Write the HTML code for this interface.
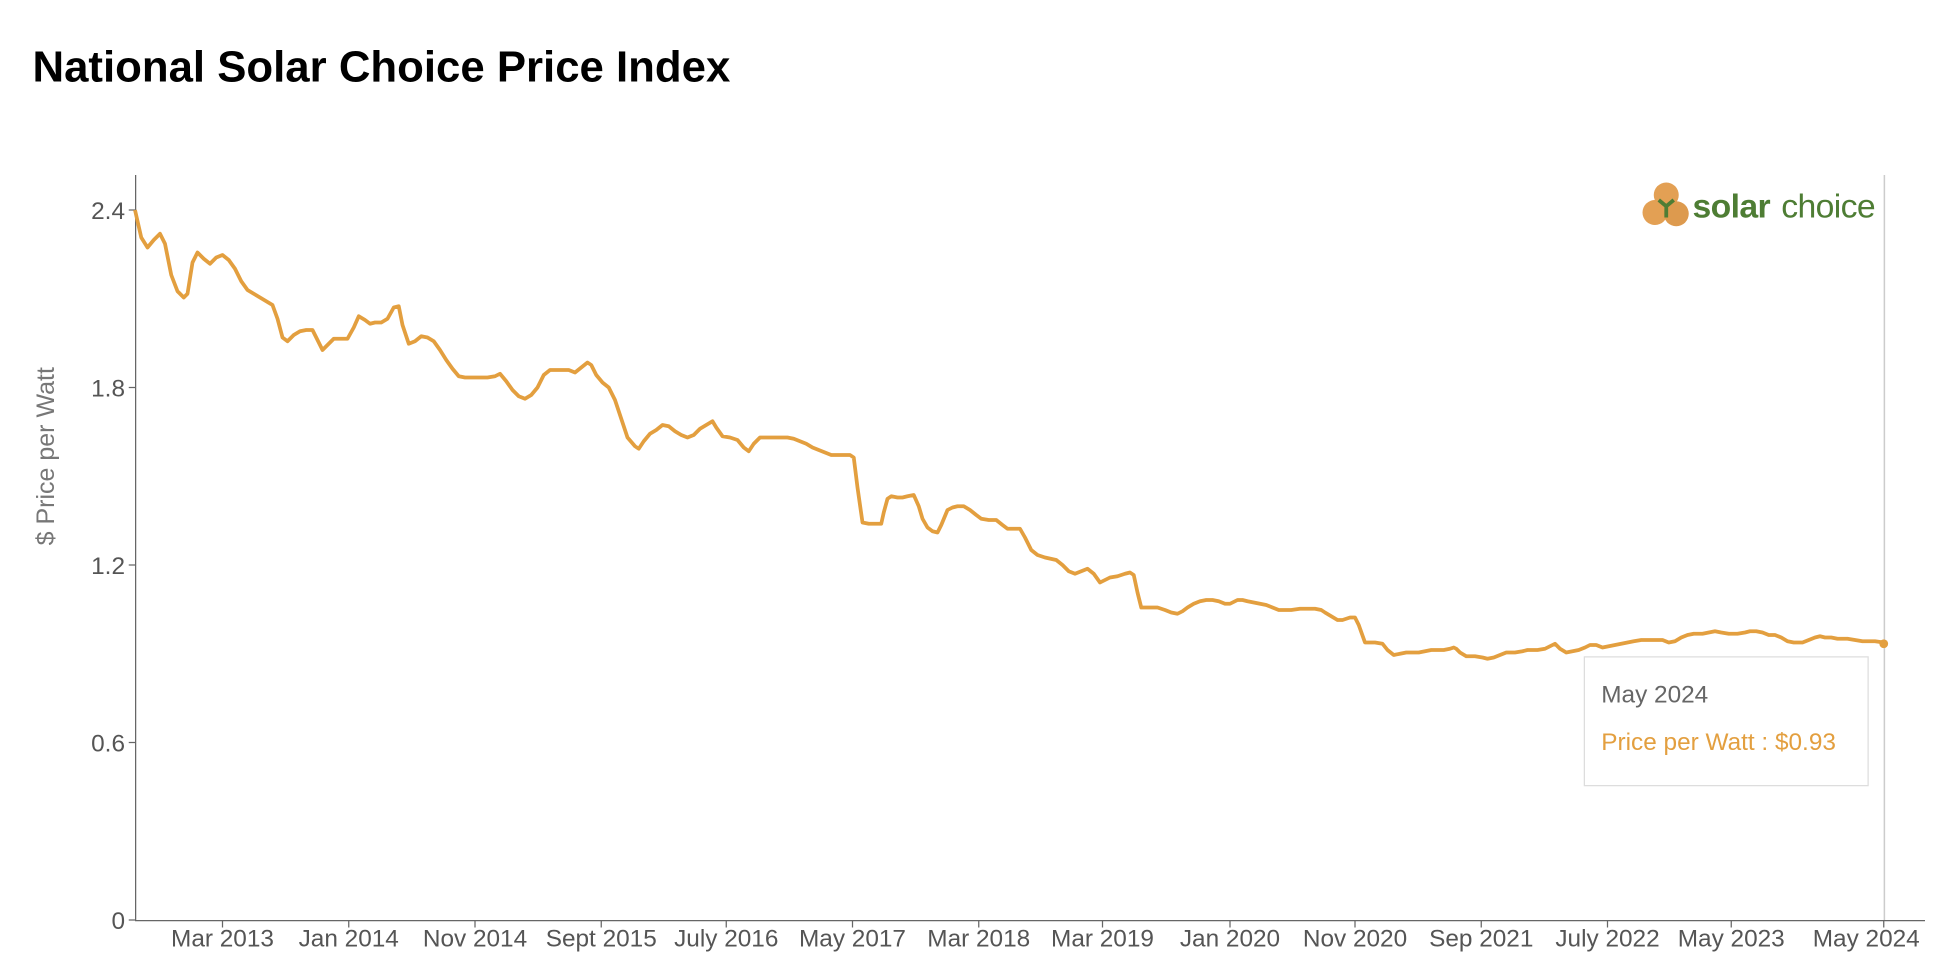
<!DOCTYPE html>
<html><head><meta charset="utf-8"><style>
html,body{margin:0;padding:0;background:#fff;}
svg{display:block;font-family:"Liberation Sans",Arial,sans-serif;}
</style></head><body>
<svg width="1938" height="958" viewBox="0 0 1550.4 766.4" xmlns="http://www.w3.org/2000/svg">
<text x="26" y="65" font-size="35" font-weight="bold" fill="#000">National Solar Choice Price Index</text>
<!-- axes -->
<line x1="108.5" y1="140" x2="108.5" y2="736.5" stroke="#666" stroke-width="1"/>
<line x1="108" y1="736.5" x2="1540" y2="736.5" stroke="#666" stroke-width="1"/>
<line x1="1507.5" y1="140" x2="1507.5" y2="736" stroke="#ccc" stroke-width="1.2"/>
<g font-size="19.5" fill="#555" text-anchor="end">
<line x1="103" y1="168" x2="108" y2="168" stroke="#666"/><text x="100" y="175">2.4</text>
<line x1="103" y1="310" x2="108" y2="310" stroke="#666"/><text x="100" y="317">1.8</text>
<line x1="103" y1="452" x2="108" y2="452" stroke="#666"/><text x="100" y="459">1.2</text>
<line x1="103" y1="594" x2="108" y2="594" stroke="#666"/><text x="100" y="601">0.6</text>
<line x1="103" y1="736" x2="108" y2="736" stroke="#666"/><text x="100" y="743">0</text>
</g>
<text transform="translate(43,365) rotate(-90)" font-size="20" fill="#777" text-anchor="middle">$ Price per Watt</text>
<g stroke="#666">
<line x1="178" y1="736" x2="178" y2="742"/><line x1="279" y1="736" x2="279" y2="742"/><line x1="380" y1="736" x2="380" y2="742"/><line x1="481" y1="736" x2="481" y2="742"/><line x1="581" y1="736" x2="581" y2="742"/><line x1="682" y1="736" x2="682" y2="742"/><line x1="783" y1="736" x2="783" y2="742"/><line x1="882" y1="736" x2="882" y2="742"/><line x1="984" y1="736" x2="984" y2="742"/><line x1="1084" y1="736" x2="1084" y2="742"/><line x1="1185" y1="736" x2="1185" y2="742"/><line x1="1286" y1="736" x2="1286" y2="742"/><line x1="1385" y1="736" x2="1385" y2="742"/><line x1="1507" y1="736" x2="1507" y2="742"/>
</g>
<g font-size="19.5" fill="#555" text-anchor="middle">
<text x="178" y="757">Mar 2013</text><text x="279" y="757">Jan 2014</text><text x="380" y="757">Nov 2014</text><text x="481" y="757">Sept 2015</text><text x="581" y="757">July 2016</text><text x="682" y="757">May 2017</text><text x="783" y="757">Mar 2018</text><text x="882" y="757">Mar 2019</text><text x="984" y="757">Jan 2020</text><text x="1084" y="757">Nov 2020</text><text x="1185" y="757">Sep 2021</text><text x="1286" y="757">July 2022</text><text x="1385" y="757">May 2023</text><text x="1493" y="757">May 2024</text>
</g>
<!-- logo -->
<circle cx="1333" cy="156" r="10" fill="#e3a054"/><circle cx="1324" cy="170" r="10" fill="#e3a054"/><circle cx="1341" cy="171" r="10" fill="#dd9a4e"/>
<path d="M1333 165 l-6 -5 M1333 165 l6 -5 M1333 165 v9" stroke="#4e7d34" stroke-width="3" fill="none"/>
<text x="1354" y="174" font-size="27" font-weight="bold" fill="#4e7d34" letter-spacing="-0.5">solar</text>
<text x="1425" y="174" font-size="27" fill="#4e7d34" letter-spacing="-0.5">choice</text>
<!-- line -->
<polyline fill="none" stroke="#e39f3f" stroke-width="3" stroke-linejoin="round" points="108,168 113,190 118,198 123,192 128,187 132,195 137,220 142,233 147,238 150,235 154,210 158,202 163,207 168,211 173,206 178,204 183,208 188,215 193,225 198,232 203,235 208,238 213,241 218,244 222,255 226,270 230,273 235,268 240,265 245,264 250,264 254,272 258,280 262,276 267,271 272,271 278,271 283,262 287,253 292,256 296,259 300,258 305,258 310,255 315,246 319,245 322,260 327,275 332,273 337,269 342,270 347,273 352,280 357,288 362,295 367,301 372,302 380,302 390,302 396,301 400,299 405,305 410,312 415,317 420,319 425,316 430,310 435,300 440,296 448,296 455,296 460,298 465,294 470,290 473,292 477,300 482,306 487,310 492,320 497,335 502,350 508,357 511,359 515,353 520,347 525,344 530,340 535,341 540,345 545,348 550,350 555,348 560,343 565,340 570,337 573,342 578,349 584,350 590,352 595,358 599,361 603,355 608,350 620,350 630,350 635,351 640,353 645,355 650,358 655,360 660,362 665,364 673,364 680,364 683,366 686,390 690,418 695,419 705,419 707,410 710,399 713,397 718,398 722,398 726,397 731,396 735,405 738,415 742,422 746,425 750,426 753,420 758,408 762,406 766,405 771,405 776,408 781,412 785,415 791,416 797,416 802,420 806,423 810,423 816,423 820,430 825,440 830,444 836,446 845,448 850,452 855,457 860,459 865,457 870,455 875,459 880,466 884,464 888,462 894,461 900,459 904,458 907,460 910,474 913,486 920,486 926,486 932,488 937,490 942,491 946,489 950,486 955,483 960,481 965,480 970,480 975,481 980,483 984,483 990,480 994,480 998,481 1003,482 1008,483 1013,484 1018,486 1023,488 1028,488 1033,488 1040,487 1046,487 1052,487 1057,488 1060,490 1065,493 1070,496 1074,496 1080,494 1084,494 1087,500 1092,514 1100,514 1106,515 1110,520 1115,524 1120,523 1125,522 1130,522 1135,522 1140,521 1145,520 1150,520 1155,520 1160,519 1163,518 1165,519 1168,522 1173,525 1180,525 1186,526 1190,527 1195,526 1200,524 1205,522 1212,522 1218,521 1222,520 1230,520 1236,519 1240,517 1244,515 1248,519 1253,522 1258,521 1263,520 1268,518 1272,516 1277,516 1282,518 1287,517 1292,516 1297,515 1302,514 1307,513 1313,512 1318,512 1325,512 1330,512 1335,514 1340,513 1345,510 1350,508 1355,507 1362,507 1367,506 1372,505 1377,506 1383,507 1390,507 1396,506 1400,505 1405,505 1410,506 1415,508 1420,508 1425,510 1430,513 1435,514 1442,514 1447,512 1452,510 1456,509 1460,510 1465,510 1470,511 1478,511 1484,512 1490,513 1500,513 1507,514"/>
<circle cx="1507" cy="515" r="3.5" fill="#e39f3f"/>
<!-- tooltip -->
<rect x="1267.5" y="525.5" width="227" height="103" fill="#fff" stroke="#ddd" stroke-width="1"/>
<text x="1281" y="562" font-size="19.5" fill="#666">May 2024</text>
<text x="1281" y="600" font-size="19.5" fill="#e39f3f">Price per Watt : $0.93</text>
</svg>
</body></html>
